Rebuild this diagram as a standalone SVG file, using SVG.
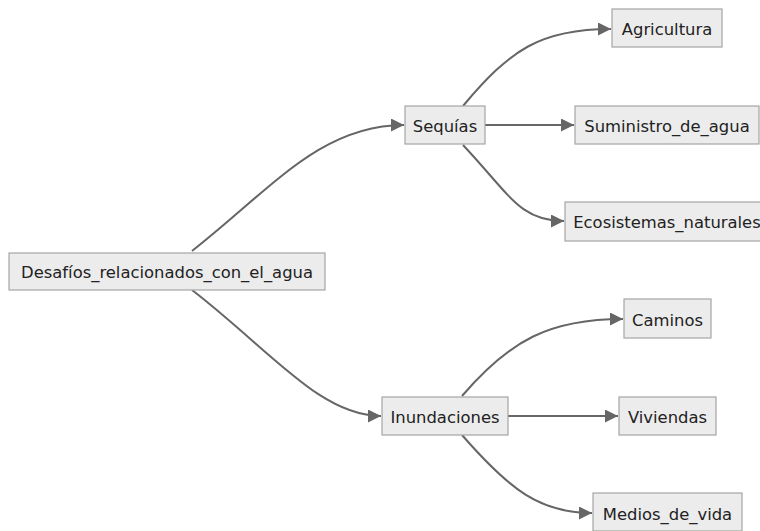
<svg xmlns="http://www.w3.org/2000/svg" width="760" height="531" viewBox="0 0 760 531">
<style>
.n rect{fill:#ececec;stroke:#a6a6a6;stroke-width:1.2}
.n text{font-family:"DejaVu Sans",sans-serif;font-size:16.4px;fill:#222;text-anchor:middle;dominant-baseline:central}
.e path{fill:none;stroke:#666;stroke-width:2;marker-end:url(#a)}
</style>
<defs>
<marker id="a" viewBox="0 0 10 10" refX="10" refY="5" markerWidth="6.5" markerHeight="6.5" markerUnits="strokeWidth" orient="auto">
<path d="M0,0 L10,5 L0,10 z" fill="#666"/>
</marker>
</defs>
<rect width="760" height="531" fill="#fff"/>
<g class="e">
<path d="M192,251 C270,190 320,125 404,125"/>
<path d="M192,290 C270,350 320,416 381,416"/>
<path d="M463,106 C510,50 540,29 611,29"/>
<path d="M485,125 L574,125"/>
<path d="M463,145 C510,195 520,221 564,221"/>
<path d="M462,396 C510,340 550,319 623,319"/>
<path d="M508,416 L618,416"/>
<path d="M462,435 C510,490 540,513 592,513"/>
</g>
<g id="root" class="n"><rect x="9" y="253" width="316" height="37"/><text x="167" y="272">Desafíos_relacionados_con_el_agua</text></g>
<g id="sequias" class="n"><rect x="405" y="106" width="80" height="38"/><text x="445" y="126">Sequías</text></g>
<g id="agricultura" class="n"><rect x="612" y="9" width="110" height="38"/><text x="667" y="29">Agricultura</text></g>
<g id="suministro" class="n"><rect x="575" y="106" width="184" height="38"/><text x="667" y="126">Suministro_de_agua</text></g>
<g id="ecosistemas" class="n"><rect x="565" y="202" width="204" height="39"/><text x="667" y="222">Ecosistemas_naturales</text></g>
<g id="inundaciones" class="n"><rect x="382" y="397" width="126" height="38"/><text x="445" y="417">Inundaciones</text></g>
<g id="caminos" class="n"><rect x="624" y="299" width="87" height="39"/><text x="667.5" y="320">Caminos</text></g>
<g id="viviendas" class="n"><rect x="619" y="397" width="97" height="38"/><text x="667.5" y="417">Viviendas</text></g>
<g id="medios" class="n"><rect x="593" y="493" width="149" height="38"/><text x="667.5" y="514">Medios_de_vida</text></g>
</svg>
